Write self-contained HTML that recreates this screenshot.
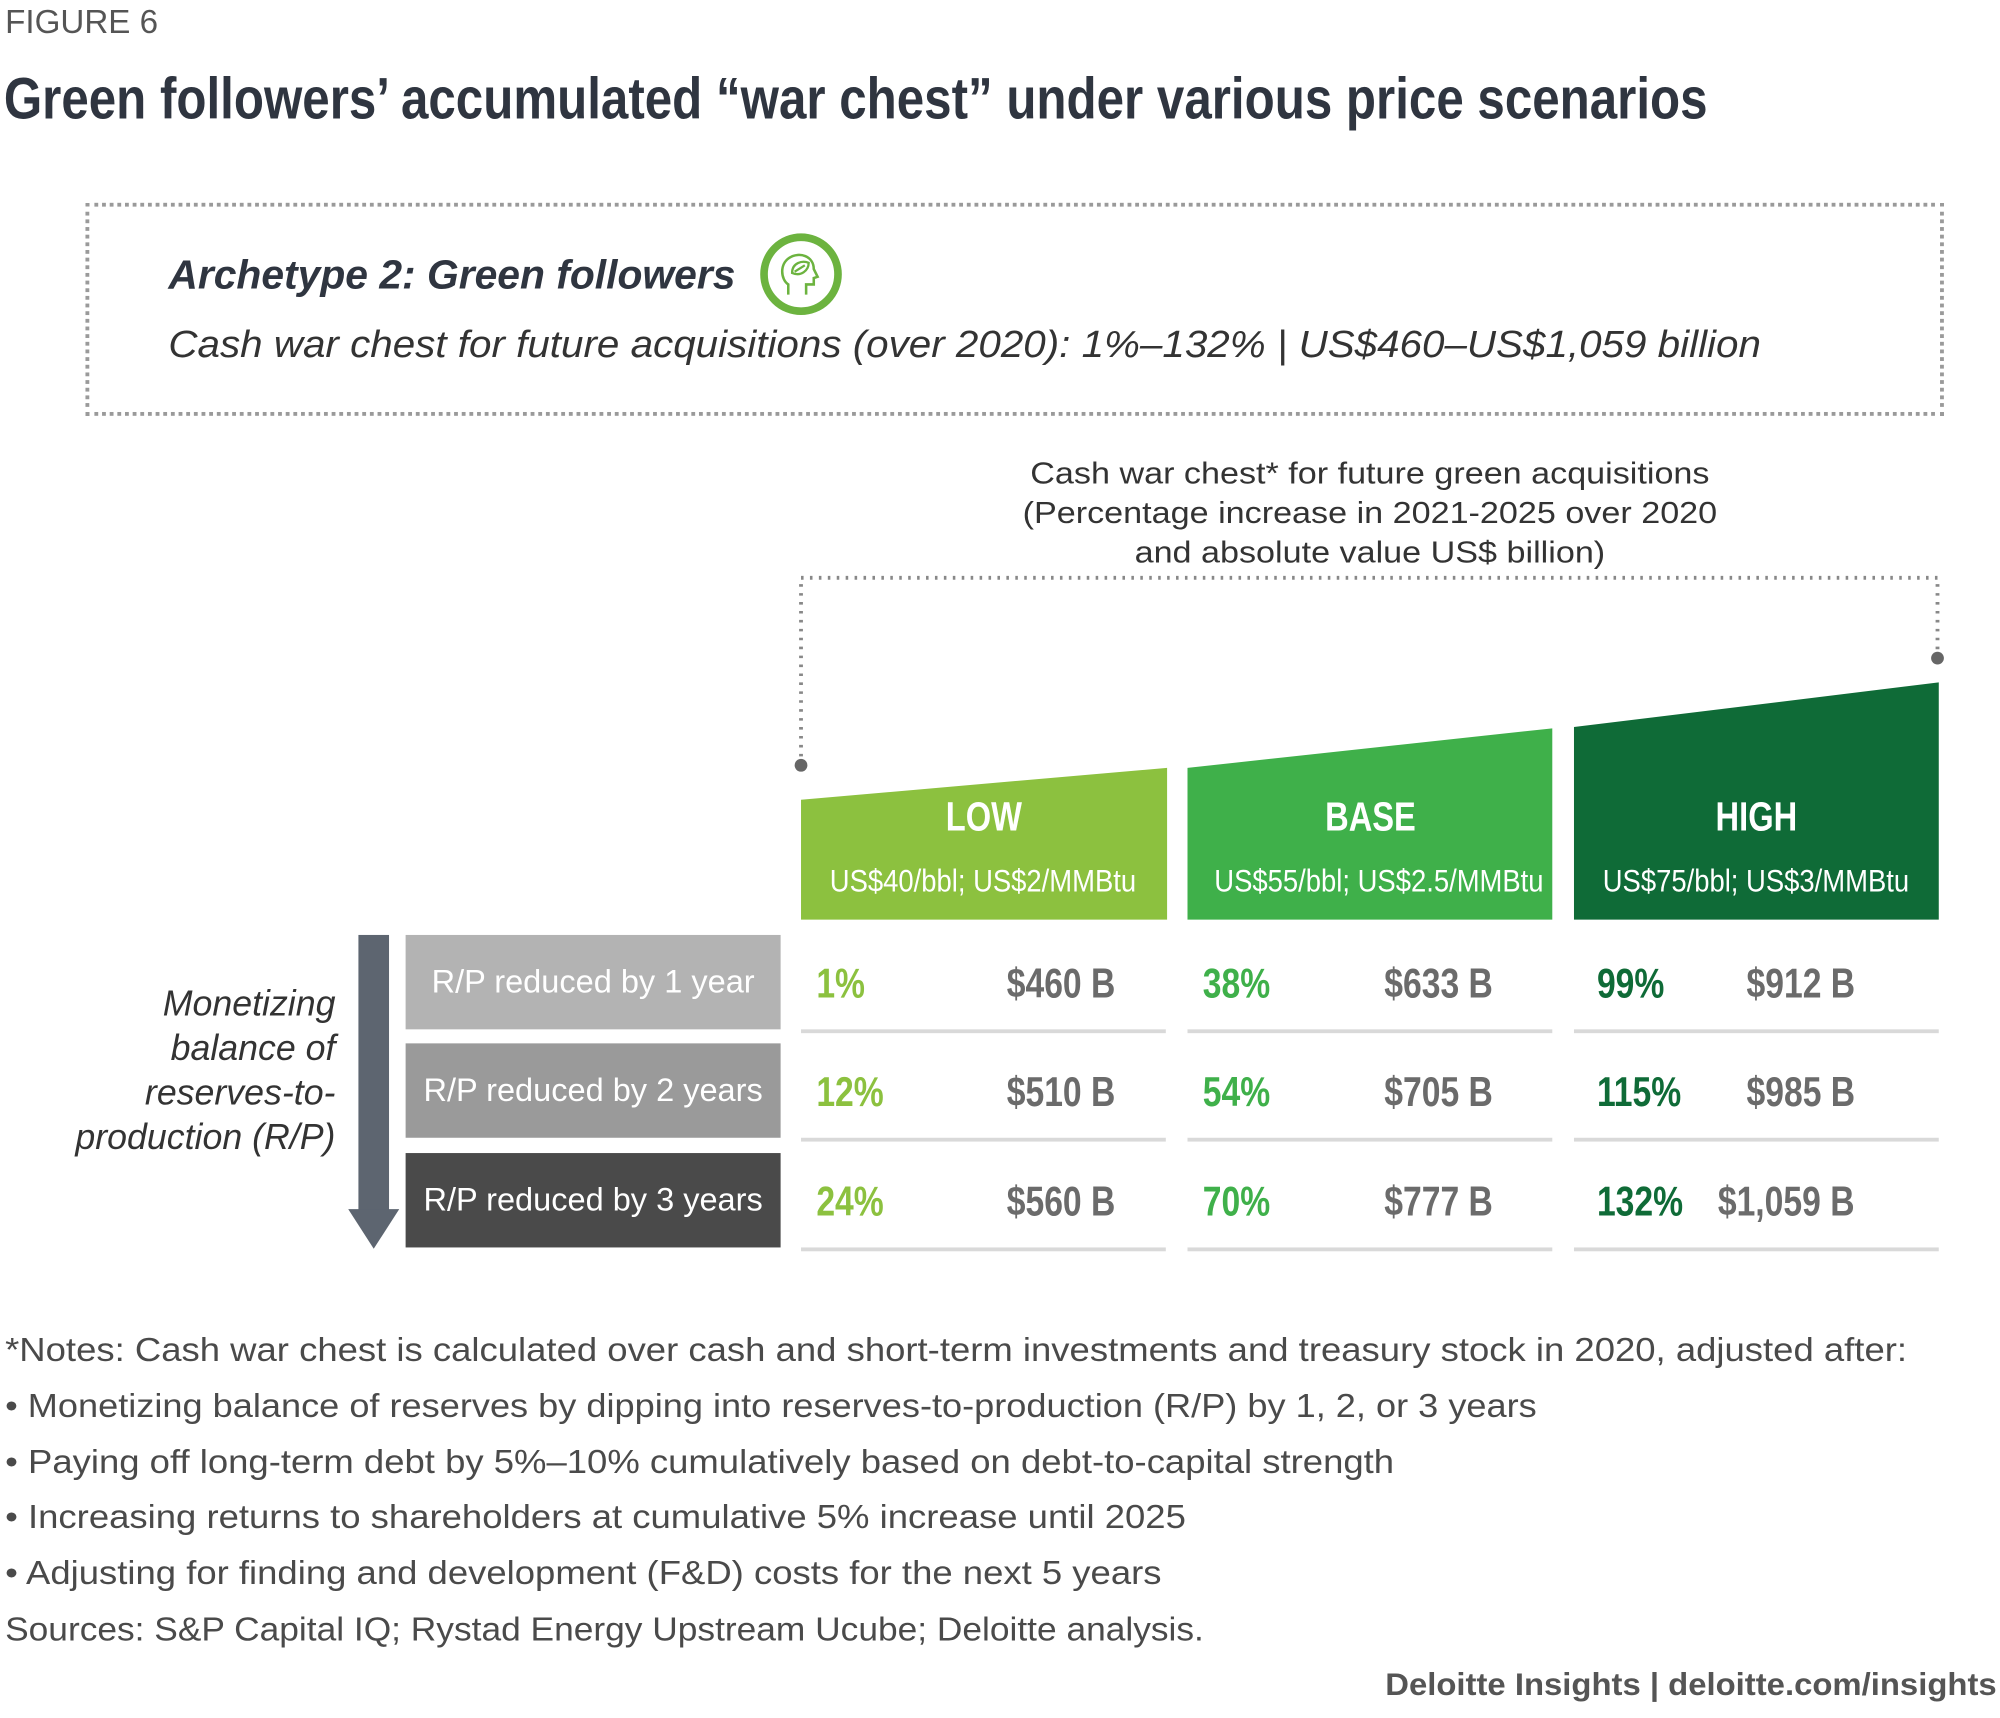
<!DOCTYPE html>
<html><head><meta charset="utf-8">
<style>
html,body{margin:0;padding:0;background:#fff;}
body{width:2000px;height:1718px;overflow:hidden;position:relative;}
#root{position:absolute;left:0;top:0;width:1568px;height:1347px;transform:scale(1.27551);transform-origin:0 0;font-family:"Liberation Sans",sans-serif;}
.abs{position:absolute;white-space:nowrap;}
.note{left:4px;font-size:26px;color:#4a4a4a;transform:scaleX(1.1);transform-origin:0 0;}
.sq{display:inline-block;transform-origin:center;}
</style></head>
<body>
<div id="root">
<div class="abs" style="left:4px;top:2px;font-size:26px;color:#555;">FIGURE 6</div>
<div class="abs" style="left:3px;top:50px;font-size:46px;font-weight:bold;color:#2f3540;transform:scaleX(0.84);transform-origin:0 0;">Green followers’ accumulated “war chest” under various price scenarios</div>

<div class="abs" style="left:67px;top:159px;width:1451px;height:161px;border:3px dotted #9a9a9a;"></div>
<div class="abs" style="left:132px;top:197px;font-size:32px;font-weight:bold;font-style:italic;color:#2f3540;">Archetype 2: Green followers</div>
<svg class="abs" style="left:594px;top:181px" width="70" height="70">
<circle cx="34" cy="34" r="29" fill="#fff" stroke="#6cb33f" stroke-width="6"/>
<path d="M24 50 L24 42 C18 38 17 26 25 21 C33 16 44 20 44 30 L47 36 L44 37 L44 42 L38 42 L38 50" fill="none" stroke="#6cb33f" stroke-width="2"/>
<path d="M27 33 C27 25 35 23 40 25 C40 31 34 36 27 33 Z M29 32 L37 27" fill="none" stroke="#6cb33f" stroke-width="1.8"/>
</svg>
<div class="abs" style="left:132px;top:254px;font-size:30px;font-style:italic;color:#333;transform:scaleX(1.055);transform-origin:0 0;">Cash war chest for future acquisitions (over 2020): 1%–132% | US$460–US$1,059 billion</div>

<div class="abs" style="left:774px;top:356px;width:600px;text-align:center;font-size:24px;line-height:31px;color:#333;white-space:normal;transform:scaleX(1.115);transform-origin:center;">Cash war chest* for future green acquisitions<br>(Percentage increase in 2021-2025 over 2020<br>and absolute value US$ billion)</div>

<svg class="abs" style="left:0;top:0" width="1568" height="1000">
<polyline points="628,600 628,453 1519,453 1519,516" fill="none" stroke="#888" stroke-width="3" stroke-dasharray="2,5"/>
<circle cx="628" cy="600" r="5" fill="#666"/>
<circle cx="1519" cy="516" r="5" fill="#666"/>
<polygon points="628,627 915,602 915,721 628,721" fill="#8cc13f"/>
<polygon points="931,602 1217,571 1217,721 931,721" fill="#3fb04a"/>
<polygon points="1234,570 1520,535 1520,721 1234,721" fill="#0f6b37"/>
<rect x="281" y="733" width="24" height="218" fill="#5d6570"/>
<polygon points="273,948 313,948 293,979" fill="#5d6570"/>
</svg>
<div class="abs" style="left:20px;top:769px;width:243px;text-align:right;font-size:28px;line-height:35px;font-style:italic;color:#333;">Monetizing<br>balance of<br>reserves-to-<br>production (R/P)</div>

<div class="abs note" style="top:1043px">*Notes: Cash war chest is calculated over cash and short-term investments and treasury stock in 2020, adjusted after:</div>
<div class="abs note" style="top:1087px;transform:scaleX(1.09)">• Monetizing balance of reserves by dipping into reserves-to-production (R/P) by 1, 2, or 3 years</div>
<div class="abs note" style="top:1131px">• Paying off long-term debt by 5%–10% cumulatively based on debt-to-capital strength</div>
<div class="abs note" style="top:1174px">• Increasing returns to shareholders at cumulative 5% increase until 2025</div>
<div class="abs note" style="top:1218px">• Adjusting for finding and development (F&amp;D) costs for the next 5 years</div>
<div class="abs note" style="top:1262px;transform:scaleX(1.065)">Sources: S&amp;P Capital IQ; Rystad Energy Upstream Ucube; Deloitte analysis.</div>
<div class="abs" style="right:3px;top:1307px;font-size:25px;font-weight:bold;color:#555;transform:scaleX(1.03);transform-origin:100% 0;">Deloitte Insights | deloitte.com/insights</div>
</div>
<script>
const scenarios = ["LOW","BASE","HIGH"];
const prices = ["US$40/bbl; US$2/MMBtu","US$55/bbl; US$2.5/MMBtu","US$75/bbl; US$3/MMBtu"];
const rowLabels = ["R/P reduced by 1 year","R/P reduced by 2 years","R/P reduced by 3 years"];
const pctLow = [1,12,24];
const pctBase = [38,54,70];
const pctHigh = [99,115,132];
const valLow = [460,510,560];
const valBase = [633,705,777];
const valHigh = [912,985,1059];

const colX=[628,931,1234], colW=286, colColors=["#8cc13f","#3fb04a","#0f6b37"];
const valRight=[246,239,220], pctLeft=[12,12,18];
const rowY=[733,818,904], rowH=74, rowColors=["#b3b3b3","#9a9a9a","#4a4a4a"];
const root=document.getElementById('root');
const pcts=[pctLow,pctBase,pctHigh], vals=[valLow,valBase,valHigh];
function fmt(v){return '$'+v.toLocaleString('en-US')+' B';}
function mk(style,text,sq,origin){const d=document.createElement('div');d.className='abs';d.style.cssText=style;
  if(sq){const s=document.createElement('span');s.className='sq';s.style.transform='scaleX('+sq+')';s.style.transformOrigin=origin||'center';s.textContent=text;d.appendChild(s);} else d.textContent=text;
  root.appendChild(d);return d;}
scenarios.forEach((s,c)=>{
  let h=mk(`left:${colX[c]}px;top:622px;width:${colW}px;text-align:center;font-size:32px;font-weight:bold;color:#fff;`,s,0.8);
  
  
  let p=mk(`left:${colX[c]}px;top:677px;width:${colW}px;text-align:center;font-size:25px;color:#fff;`,prices[c],0.86);
  
  
});
rowLabels.forEach((r,i)=>{
  let b=mk(`left:318px;top:${rowY[i]}px;width:294px;height:${rowH}px;line-height:${rowH}px;background:${rowColors[i]};text-align:center;font-size:25.5px;color:#fff;`,r);
  
  
  for(let c=0;c<3;c++){
    let pc=mk(`left:${colX[c]+pctLeft[c]}px;top:${rowY[i]+19}px;font-size:33px;font-weight:bold;color:${colColors[c]};`,pcts[c][i]+'%',0.8,'0 0');
    
    
    let v=mk(`left:${colX[c]}px;width:${valRight[c]}px;text-align:right;top:${rowY[i]+19}px;font-size:33px;font-weight:bold;color:#6b6b6b;`,fmt(vals[c][i]),0.8,'100% 0');
    
    
    let l=mk(`left:${colX[c]}px;top:${rowY[i]+rowH}px;width:${colW}px;height:3px;background:#d9d9d9;`,'');
    
    
  }
});
</script>
</body></html>
